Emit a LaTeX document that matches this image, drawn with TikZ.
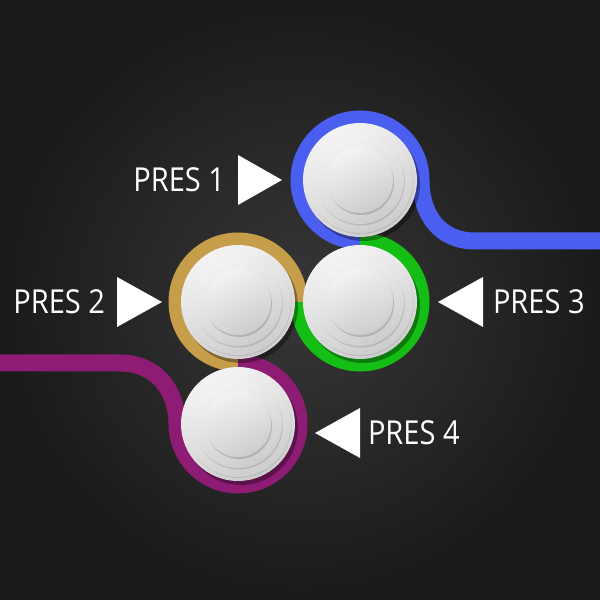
\documentclass[tikz,border=0pt]{standalone}
\usepackage{fontspec}
\newfontfamily\presfont[FakeStretch=0.88]{Open Sans}
\usetikzlibrary{positioning,shadows}

\definecolor{bgin}{HTML}{373737}
\definecolor{bgout}{HTML}{1A1A1A}
\definecolor{trackblue}{HTML}{4A5EF0}
\definecolor{trackgreen}{HTML}{14BE14}
\definecolor{trackgold}{HTML}{C69E4A}
\definecolor{trackpurple}{HTML}{8E1C74}
\definecolor{discA}{HTML}{F3F3F3}
\definecolor{discB}{HTML}{CDCDCD}

\tikzstyle{every node}=[inner sep=0pt,outer sep=0pt]
\tikzstyle{track}=[line width=17pt]
\tikzstyle{disc}=[circle,top color=discA,bottom color=discB,shading angle=25]
\tikzstyle{pres}=[text=white,font=\presfont\fontsize{33}{36}\selectfont]
\tikzstyle{pointer}=[fill=white]

\begin{document}
\begin{tikzpicture}[x=1pt,y=1pt]
  \useasboundingbox (0,0) rectangle (600,600);
  \shade[inner color=bgin,outer color=bgout] (0,0) rectangle (600,600);

  % centres of the buttons and loose ends of the track
  \coordinate (c1) at (360,420);
  \coordinate (c2) at (238,298);
  \coordinate (c3) at (360,298);
  \coordinate (c4) at (238,176);
  \coordinate (eastend) at (600,359);
  \coordinate (westend) at (0,237);

  % track, one colour per button
  \draw[track,trackblue] (eastend) -- ++(-125,0)
    .. controls +(-35,0) and +(0,-35) .. ([xshift=61pt]c1)
    arc[start angle=0,end angle=270,radius=61];
  \draw[track,trackgreen] ([yshift=61pt]c3)
    arc[start angle=90,end angle=-180,radius=61];
  \draw[track,trackgold] ([xshift=61pt]c2)
    arc[start angle=0,end angle=270,radius=61];
  \draw[track,trackpurple] ([yshift=61pt]c4)
    arc[start angle=90,end angle=-180,radius=61]
    .. controls +(0,35) and +(35,0) .. ([xshift=-118pt,yshift=61pt]c4)
    -- (westend);

  % buttons
  \foreach \n in {1,...,4}{
    \node[disc,minimum size=114pt,
      drop shadow={shadow xshift=3pt,shadow yshift=-4pt,fill=black,opacity=.35}] (p\n) at (c\n) {};
    \node[disc,minimum size=106pt,
      drop shadow={shadow xshift=.5pt,shadow yshift=-1pt,fill=black,opacity=.1}] (p\n-rim) at (p\n) {};
    \node[disc,minimum size=88pt,
      drop shadow={shadow xshift=.8pt,shadow yshift=-1.5pt,fill=black,opacity=.12}] (p\n-mid) at (p\n) {};
    \node[disc,minimum size=66pt,
      drop shadow={shadow xshift=1pt,shadow yshift=-2pt,fill=black,opacity=.15}] (p\n-top) at (p\n) {};
  }

  % pointers and labels
  \coordinate (a1) at (282,420);
  \coordinate (a2) at (162,298);
  \coordinate (a3) at (438,298);
  \coordinate (a4) at (315,167);
  \fill[pointer] (a1) -- ++(-44,25) -- ++(0,-50) -- cycle;
  \fill[pointer] (a2) -- ++(-45,25) -- ++(0,-50) -- cycle;
  \fill[pointer] (a3) -- ++(45,25) -- ++(0,-50) -- cycle;
  \fill[pointer] (a4) -- ++(45,25) -- ++(0,-50) -- cycle;
  \node[pres,left=57pt of a1] (l1) {PRES 1};
  \node[pres,left=57pt of a2] (l2) {PRES 2};
  \node[pres,right=55pt of a3] (l3) {PRES 3};
  \node[pres,right=53pt of a4] (l4) {PRES 4};
\end{tikzpicture}
\end{document}
